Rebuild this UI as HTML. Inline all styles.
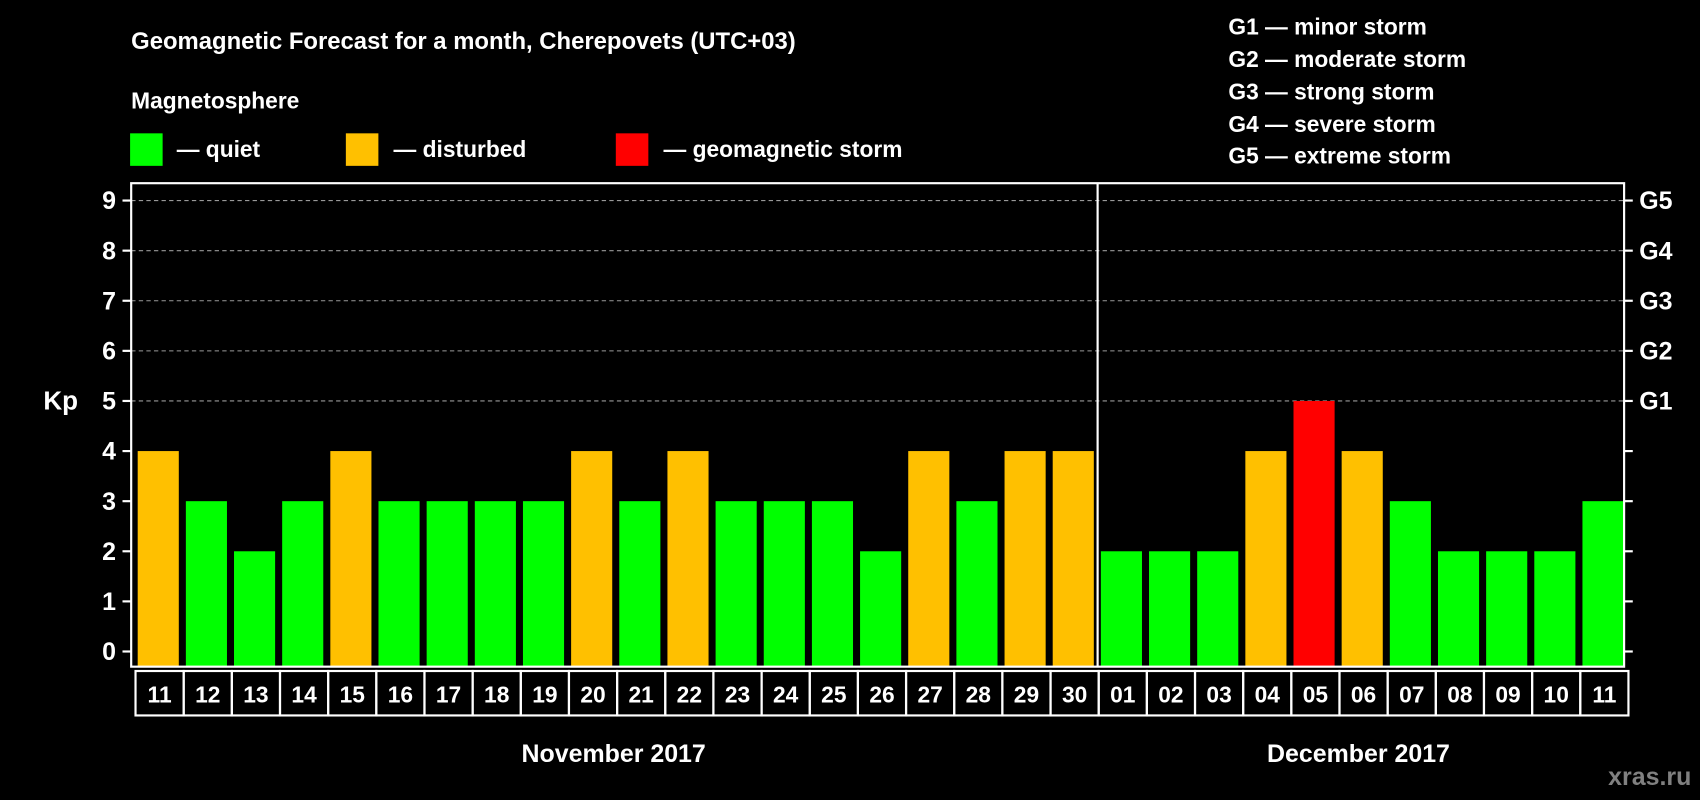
<!DOCTYPE html>
<html><head><meta charset="utf-8"><style>
html,body{margin:0;padding:0;background:#000;}
svg{display:block;font-family:"Liberation Sans",Arial,sans-serif;font-weight:bold;}
</style></head><body>
<svg id="chart" width="1700" height="800" viewBox="0 0 1568 738" preserveAspectRatio="none" xmlns="http://www.w3.org/2000/svg">
<rect width="1568" height="738" fill="#000"/>
<text x="121" y="45" fill="#fff" font-size="22">Geomagnetic Forecast for a month, Cherepovets (UTC+03)</text>
<text x="121" y="100" fill="#fff" font-size="21">Magnetosphere</text>
<g><rect x="120" y="123" width="30" height="30" fill="#00ff00"/><text x="163" y="145" fill="#fff" font-size="21">— quiet</text></g>
<g><rect x="319" y="123" width="30" height="30" fill="#ffc000"/><text x="363" y="145" fill="#fff" font-size="21">— disturbed</text></g>
<g><rect x="568" y="123" width="30" height="30" fill="#ff0000"/><text x="612" y="145" fill="#fff" font-size="21">— geomagnetic storm</text></g>
<g fill="#fff" font-size="21">
<text x="1133" y="32">G1 — minor storm</text>
<text x="1133" y="62">G2 — moderate storm</text>
<text x="1133" y="92">G3 — strong storm</text>
<text x="1133" y="122">G4 — severe storm</text>
<text x="1133" y="151">G5 — extreme storm</text>
</g>
<text x="40" y="378" fill="#fff" font-size="24">Kp</text>
<g id="grid"></g>
<g id="bars"></g>
<g id="axes"></g>
<text x="566" y="703" fill="#fff" font-size="23" text-anchor="middle">November 2017</text>
<text x="1253" y="703" fill="#fff" font-size="23" text-anchor="middle">December 2017</text>
<text x="1560" y="724" fill="#808080" font-size="23" text-anchor="end">xras.ru</text>
</svg>
<script>
const days = ["11","12","13","14","15","16","17","18","19","20","21","22","23","24","25","26","27","28","29","30","01","02","03","04","05","06","07","08","09","10","11"];
const kpValues = [4,3,2,3,4,3,3,3,3,4,3,4,3,3,3,2,4,3,4,4,2,2,2,4,5,4,3,2,2,2,3];
const yTicks = [0,1,2,3,4,5,6,7,8,9];
const gLabels = ["G1","G2","G3","G4","G5"];
const monthSplit = 20;

const NS="http://www.w3.org/2000/svg";
const L=121,R=1498,T=169,B=615;
const y0=601,y9=185;
function yScale(v){return y0-(y0-y9)*v/9;}
const step=(R-L)/days.length;
function xScale(i){return L+i*step;}
function mk(tag,attrs,parent){const e=document.createElementNS(NS,tag);for(const k in attrs)e.setAttribute(k,attrs[k]);parent.appendChild(e);return e;}
const grid=document.getElementById('grid'),bars=document.getElementById('bars'),axes=document.getElementById('axes');

yTicks.forEach(v=>{
  const y=yScale(v);
  if(v>=5){const g=mk('line',{x1:L,x2:R,y1:y,y2:y,stroke:'#999','stroke-width':1,'stroke-dasharray':'4,3'},grid);
  
  }
  mk('line',{x1:L-8,x2:L,y1:y,y2:y,stroke:'#fff','stroke-width':2},axes);
  mk('line',{x1:R,x2:R+8,y1:y,y2:y,stroke:'#fff','stroke-width':2},axes);
  const t=mk('text',{x:L-14,y:y+8,fill:'#fff','font-size':23,'text-anchor':'end'},axes);
  t.textContent=v;
  
  
  if(v>=5){const g=mk('text',{x:R+14,y:y+8,fill:'#fff','font-size':23},axes);
  g.textContent=gLabels[v-5];
  
  }
});

kpValues.forEach((v,i)=>{
  const col=v>=5?'#ff0000':(v>=4?'#ffc000':'#00ff00');
  const x=xScale(i)+6;
  const b=mk('rect',{x:x,y:yScale(v),width:step-6.5,height:B-yScale(v),fill:col},bars);
  
  
  const c=mk('rect',{x:xScale(i)+4,y:619,width:step,height:41,fill:'none',stroke:'#fff','stroke-width':2},axes);
  const t=mk('text',{x:xScale(i)+4+step/2,y:648,fill:'#fff','font-size':21,'text-anchor':'middle'},axes);
  t.textContent=days[i];
  
  
});
const fr=mk('rect',{x:L,y:T,width:R-L,height:B-T,fill:'none',stroke:'#fff','stroke-width':2},axes);


const dv=mk('line',{x1:xScale(monthSplit)+3,x2:xScale(monthSplit)+3,y1:T,y2:B,stroke:'#fff','stroke-width':2},axes);


</script>
</body></html>
